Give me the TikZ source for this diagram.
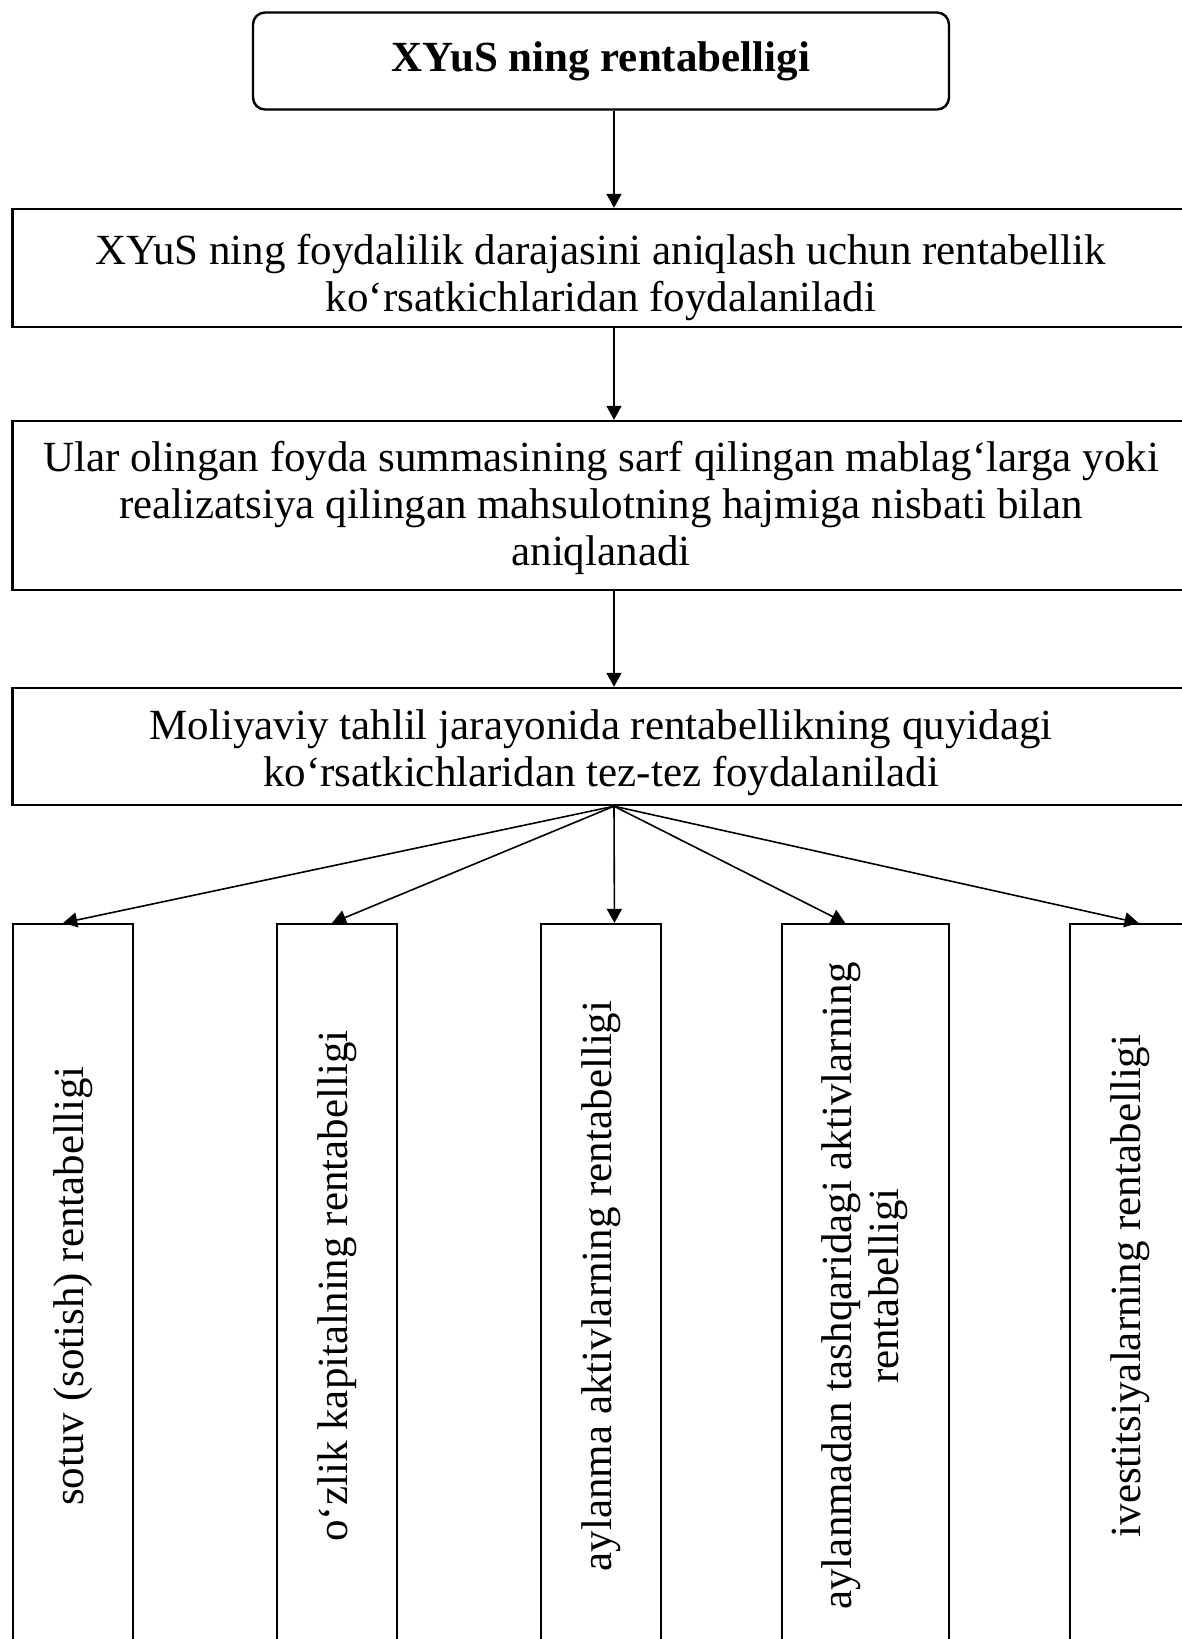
\documentclass[tikz,border=0pt]{standalone}
\usepackage{fontspec}
\setmainfont{Liberation Serif}
\usepackage{graphicx}
\usetikzlibrary{arrows.meta,calc}

\begin{document}
\begin{tikzpicture}[
        x=0.5pt, y=-0.5pt,
        every node/.style={font=\fontsize{21.5}{23.5}\selectfont},
        block/.style={rectangle, draw, line width=1.2pt, align=center, inner sep=0pt, minimum width=588.5pt},
        column/.style={rectangle, draw, line width=1.1pt, minimum height=362pt, inner sep=0pt},
        arrow/.style={-{Triangle[length=7pt,width=7.5pt]}, line width=0.8pt}
    ]
        \useasboundingbox (0,0) rectangle (1182,1639);
        \clip (0,0) rectangle (1182,1639);

        % Main blocks (the struts push the text a little down, as in the source)
        \node[block, rounded corners=6pt, minimum width=348pt, minimum height=48.5pt,
              font=\fontsize{21.5}{23.5}\selectfont\bfseries] (title) at (601,61) {XYuS ning rentabelligi};
        \node[block, minimum height=59pt] (usage) at (601,268)
            {\rule{0pt}{24.5pt}XYuS ning foydalilik darajasini aniqlash uchun rentabellik\\ko‘rsatkichlaridan foydalaniladi};
        \node[block, minimum height=84.5pt] (ratio) at (601,505.5)
            {\rule{0pt}{17.5pt}Ular olingan foyda summasining sarf qilingan mablag‘larga yoki\\realizatsiya qilingan mahsulotning hajmiga nisbati bilan\\aniqlanadi};
        \node[block, minimum height=58.5pt] (kinds) at (601,746.5)
            {\rule{0pt}{21.5pt}Moliyaviy tahlil jarayonida rentabellikning quyidagi\\ko‘rsatkichlaridan tez-tez foydalaniladi};
        \coordinate (spine) at (614,0);

        % Indicator columns
        \node[column, minimum width=60pt] (sales) at (73,1286) {\rotatebox{90}{sotuv (sotish) rentabelligi}};
        \node[column, minimum width=60pt] (equity) at (337,1286) {\rotatebox{90}{o‘zlik kapitalning rentabelligi}};
        \node[column, minimum width=60pt] (current) at (601,1286) {\rotatebox{90}{aylanma aktivlarning rentabelligi}};
        \node[column, minimum width=83.5pt] (fixed) at (865.5,1286)
            {\rotatebox{90}{\begin{tabular}{@{}c@{}}aylanmadan tashqaridagi aktivlarning\\rentabelligi\end{tabular}}};
        \node[column, minimum width=60pt] (invest) at (1130,1286) {\rotatebox{90}{ivestitsiyalarning rentabelligi}};

        % Arrows
        \draw[arrow] (spine |- title.south) -- (spine |- usage.north);
        \draw[arrow] (spine |- usage.south) -- (spine |- ratio.north);
        \draw[arrow] (spine |- ratio.south) -- (spine |- kinds.north);
        \foreach \col/\where in {sales/0.42, equity/0.46, current/0.61, fixed/0.38, invest/0.57}
            \draw[arrow] (spine |- kinds.south) -- ($(\col.north west)!\where!(\col.north east)$);

    \end{tikzpicture}
\end{document}
